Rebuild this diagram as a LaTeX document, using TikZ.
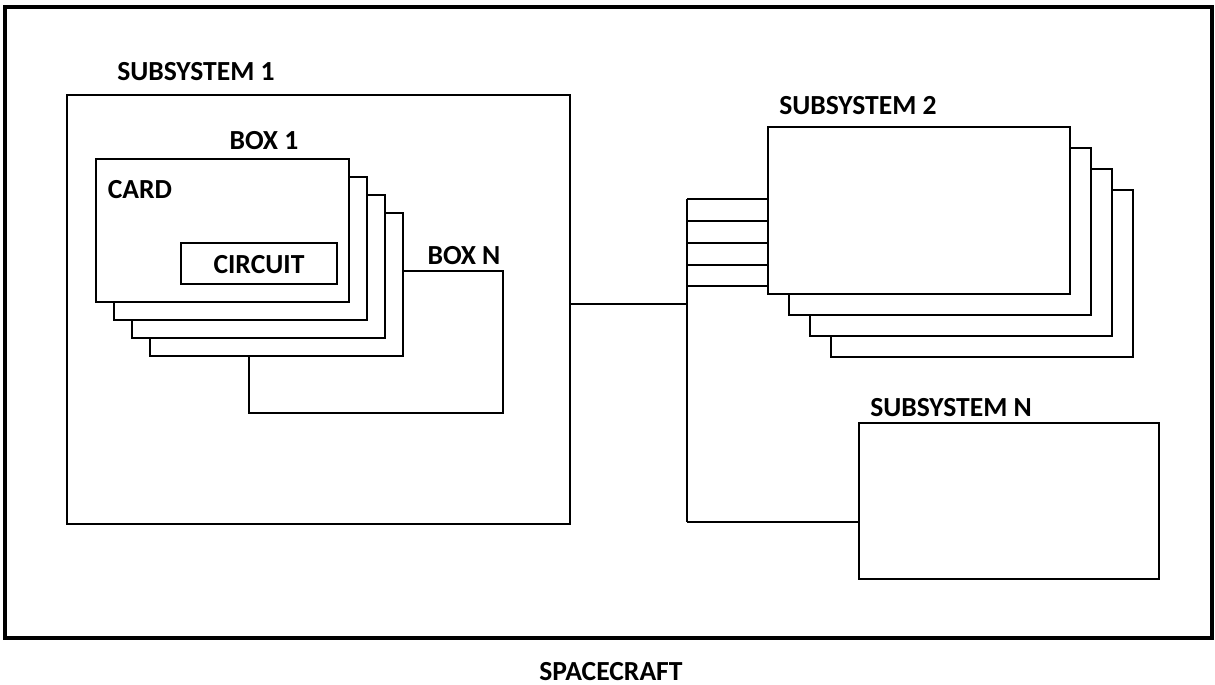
\documentclass[tikz,border=0pt]{standalone}
\usepackage{fontspec}
\setmainfont{Carlito}
\usetikzlibrary{fit, positioning}
\tikzset{
  blk/.style={draw, line width=1.1pt, fill=white, inner sep=0pt},
  lbl/.style={font=\bfseries\fontsize{13.8}{16}\selectfont, inner sep=0pt},
  wire/.style={line width=1.1pt}
}
\begin{document}
\begin{tikzpicture}[x=0.5pt, y=-0.5pt]
  \useasboundingbox (0,0) rectangle (1215,685);

  % Spacecraft frame
  \node[blk, line width=1.8pt, fit={(5,7) (1212,638)}] (craft) {};
  \node[lbl] (craftlbl) at (611,672) {SPACECRAFT};

  % Subsystem 1
  \node[blk, fit={(67,95) (570,524)}] (sub1) {};
  \node[lbl] (sub1lbl) at (196,72) {SUBSYSTEM 1};

  % Boxes, back to front
  \node[blk, fit={(249,271) (503,413)}] (boxN) {};
  \node[lbl] (boxNlbl) at (464,256) {BOX N};
  \foreach \i in {3,2,1} {
    \node[blk, fit={({96+18*\i},{159+18*\i}) ({349+18*\i},{302+18*\i})}] (lay\i) {};
  }
  \node[blk, fit={(96,159) (349,302)}] (card) {};
  \node[lbl] (box1lbl) at (264,141) {BOX 1};
  \node[lbl] (cardlbl) at (140,190) {CARD};
  \node[blk, fit={(181,243) (337,284)}] (circ) {};
  \node[lbl] (circlbl) at (259,265) {CIRCUIT};

  % Subsystem 2
  \foreach \i in {3,2,1} {
    \node[blk, fit={({768+21*\i},{127+21*\i}) ({1070+21*\i},{294+21*\i})}] (sublay\i) {};
  }
  \node[blk, fit={(768,127) (1070,294)}] (sub2) {};
  \node[lbl] (sub2lbl) at (858,106) {SUBSYSTEM 2};

  % Subsystem N
  \node[blk, fit={(859,423) (1159,579)}] (subN) {};
  \node[lbl] (subNlbl) at (951,408) {SUBSYSTEM N};

  % Bus
  \coordinate (bustop) at (687,199);
  \coordinate (busbot) at (687,522);
  \coordinate (busA) at (687,304);
  \draw[wire] (bustop) -- (busbot);
  \draw[wire] (sub1.east |- busA) -- (busA);
  \draw[wire] (busbot) -- (busbot -| subN.west);
  \foreach \y in {199,221,243,265,286} {
    \coordinate (tap\y) at (687,\y);
    \draw[wire] (tap\y) -- (tap\y -| sub2.west);
  }
\end{tikzpicture}
\end{document}
